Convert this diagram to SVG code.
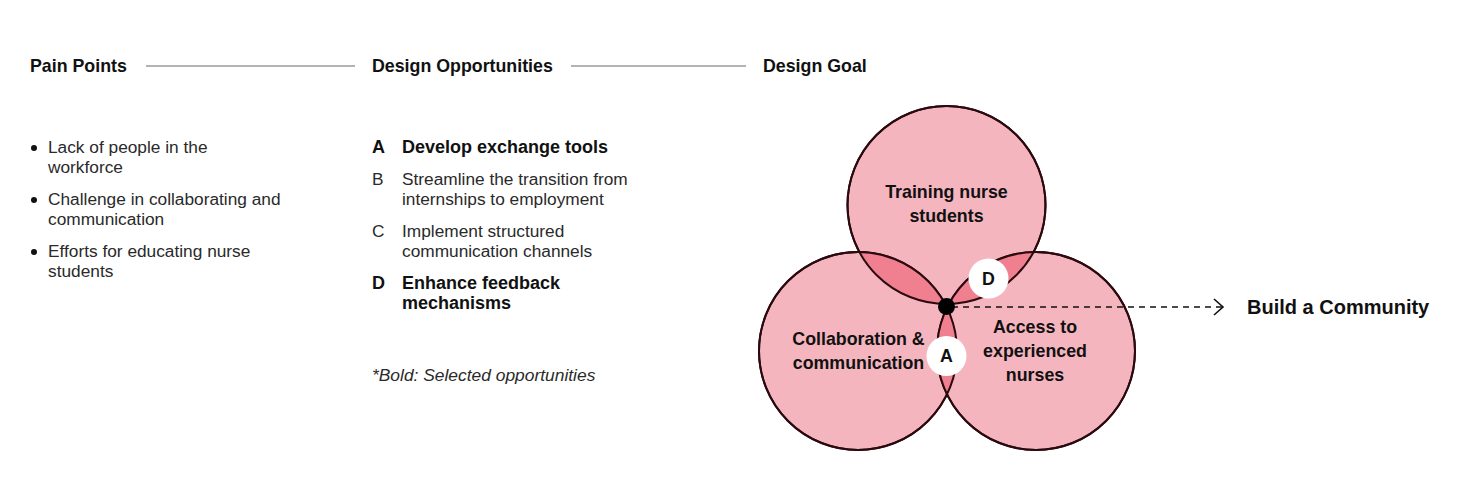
<svg xmlns="http://www.w3.org/2000/svg" width="1479" height="479" viewBox="0 0 1479 479">
<style>
text{font-family:"Liberation Sans",Arial,sans-serif;fill:#111;}
.h{font-weight:bold;font-size:17.8px;}
.r{font-size:17.3px;fill:#2a2a2a;}
.b{font-weight:bold;font-size:18px;}
.lbl{font-weight:bold;font-size:17.8px;text-anchor:middle;}
.it{font-style:italic;font-size:17.4px;fill:#2a2a2a;}
.rule{stroke:#b3b3b3;stroke-width:2;}
.c{fill:#f5b5bf;stroke:#2b0a0f;stroke-width:2;}
.lens{fill:#f0808f;}
.badge{fill:#fff;}
</style>
<defs>
<clipPath id="cpTop"><circle cx="946.5" cy="205" r="99"/></clipPath>
<clipPath id="cpLeft"><circle cx="858" cy="351" r="99"/></clipPath>
<clipPath id="cpRight"><circle cx="1036" cy="351" r="99"/></clipPath>
<marker id="chev" markerWidth="14" markerHeight="18" refX="11" refY="9" orient="auto" markerUnits="userSpaceOnUse">
<path d="M2,1 L11,9 L2,17" fill="none" stroke="#111" stroke-width="1.6"/>
</marker>
</defs>
<g id="headers">
<text class="h" x="30" y="72">Pain Points</text>
<line class="rule" x1="146" y1="66" x2="355" y2="66"/>
<text class="h" x="372" y="72">Design Opportunities</text>
<line class="rule" x1="571" y1="66" x2="746" y2="66"/>
<text class="h" x="763" y="72">Design Goal</text>
</g>
<g id="pain-points">
<circle cx="34" cy="148" r="3" fill="#111"/>
<text class="r" x="48" y="153">Lack of people in the</text>
<text class="r" x="48" y="173">workforce</text>
<circle cx="34" cy="200" r="3" fill="#111"/>
<text class="r" x="48" y="205">Challenge in collaborating and</text>
<text class="r" x="48" y="225">communication</text>
<circle cx="34" cy="252" r="3" fill="#111"/>
<text class="r" x="48" y="257">Efforts for educating nurse</text>
<text class="r" x="48" y="277">students</text>
</g>
<g id="opportunities">
<text class="b" x="372" y="153">A</text>
<text class="b" x="402" y="153">Develop exchange tools</text>
<text class="r" x="372" y="185">B</text>
<text class="r" x="402" y="185">Streamline the transition from</text>
<text class="r" x="402" y="205">internships to employment</text>
<text class="r" x="372" y="237">C</text>
<text class="r" x="402" y="237">Implement structured</text>
<text class="r" x="402" y="257">communication channels</text>
<text class="b" x="372" y="289">D</text>
<text class="b" x="402" y="289">Enhance feedback</text>
<text class="b" x="402" y="309">mechanisms</text>
<text class="it" x="372" y="381">*Bold: Selected opportunities</text>
</g>
<g id="venn">
<circle class="c" cx="946.5" cy="205" r="99"/>
<circle class="c" cx="858" cy="351" r="99"/>
<circle class="c" cx="1036" cy="351" r="99"/>
<g clip-path="url(#cpTop)"><circle class="lens" cx="858" cy="351" r="99"/></g>
<g clip-path="url(#cpTop)"><circle class="lens" cx="1036" cy="351" r="99"/></g>
<g clip-path="url(#cpLeft)"><circle class="lens" cx="1036" cy="351" r="99"/></g>
<circle cx="946.5" cy="205" r="99" fill="none" stroke="#2b0a0f" stroke-width="2"/>
<circle cx="858" cy="351" r="99" fill="none" stroke="#2b0a0f" stroke-width="2"/>
<circle cx="1036" cy="351" r="99" fill="none" stroke="#2b0a0f" stroke-width="2"/>
<text class="lbl" x="946.5" y="198">Training nurse</text>
<text class="lbl" x="946.5" y="222">students</text>
<text class="lbl" x="858.5" y="345">Collaboration &amp;</text>
<text class="lbl" x="858.5" y="369">communication</text>
<text class="lbl" x="1035" y="333">Access to</text>
<text class="lbl" x="1035" y="357">experienced</text>
<text class="lbl" x="1035" y="381">nurses</text>
</g>
<g id="connectors">
<line x1="952" y1="307" x2="1223" y2="307" stroke="#111" stroke-width="1.6" stroke-dasharray="6,5" marker-end="url(#chev)"/>
</g>
<g id="hub">
<circle cx="946.5" cy="306.5" r="8.5" fill="#000"/>
</g>
<g id="badge-D">
<circle class="badge" cx="988.5" cy="278.5" r="20"/>
<text class="lbl" x="988.5" y="284.5">D</text>
</g>
<g id="badge-A">
<circle class="badge" cx="946.5" cy="356" r="20"/>
<text class="lbl" x="946.5" y="362">A</text>
</g>
<g id="goal">
<text x="1247" y="314" style="font-weight:bold;font-size:20px">Build a Community</text>
</g>
</svg>
